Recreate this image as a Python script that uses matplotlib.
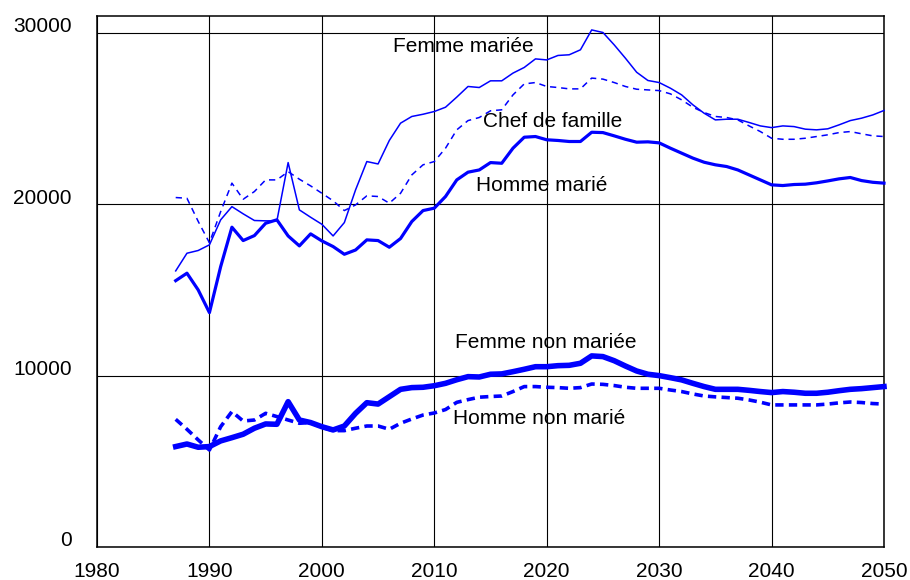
import numpy as np
import matplotlib
matplotlib.use("Agg")
import matplotlib.pyplot as plt
from matplotlib.transforms import ScaledTranslation

plt.rcParams['font.family'] = ['Liberation Sans', 'DejaVu Sans']
plt.rcParams['lines.scale_dashes'] = False

years = list(range(1987, 2051))

femme_mariee = [
    16110, 17140, 17300,
    17630, 19090, 19860, 19440, 19050, 19030, 19030, 22430, 19670, 19240,
    18830, 18150, 18930, 20840, 22490, 22350, 23720, 24730, 25120, 25250,
    25410, 25660, 26250, 26870, 26810, 27200, 27200, 27650, 27980, 28480,
    28420, 28680, 28720, 29010, 30170, 30020, 29300, 28520, 27700, 27220,
    27100, 26770, 26380, 25800, 25310, 24920, 24960, 24960, 24770, 24570,
    24470, 24570, 24530, 24380, 24340, 24400, 24630, 24880, 25020, 25210,
    25470]

chef_de_famille = [
    20390, 20350, 19000,
    17750, 19570, 21230, 20290, 20740, 21420, 21420, 21900, 21460, 21070,
    20640, 20200, 19630, 19960, 20490, 20450, 20060, 20640, 21710, 22300,
    22490, 23270, 24340, 24880, 25060, 25450, 25510, 26380, 27020, 27100,
    26870, 26810, 26730, 26730, 27360, 27300, 27100, 26870, 26710, 26670,
    26630, 26440, 26090, 25660, 25350, 25120, 25060, 24920, 24570, 24240,
    23850, 23790, 23790, 23850, 23950, 24050, 24180, 24240, 24110, 23990,
    23950]

homme_marie = [
    15540, 15975, 15000,
    13675, 16360, 18660, 17880, 18170, 18890, 19090, 18150, 17570, 18270,
    17860, 17530, 17080, 17330, 17920, 17880, 17490, 18000, 18990, 19630,
    19770, 20450, 21420, 21870, 22000, 22430, 22390, 23270, 23910, 23950,
    23760, 23720, 23660, 23660, 24200, 24180, 23990, 23790, 23620, 23640,
    23580, 23270, 22980, 22690, 22450, 22300, 22200, 22000, 21710, 21420,
    21130, 21090, 21150, 21170, 21250, 21360, 21480, 21560, 21380, 21280,
    21230]

femme_non_mariee = [
    5860, 6010, 5820,
    5860, 6190, 6380, 6580, 6930, 7180, 7160, 8480, 7410, 7260,
    7020, 6830, 7060, 7800, 8420, 8340, 8770, 9200, 9300, 9320,
    9410, 9550, 9760, 9940, 9920, 10080, 10100, 10230, 10370, 10520,
    10520, 10580, 10600, 10720, 11150, 11110, 10870, 10560, 10270, 10080,
    10000, 9880, 9750, 9550, 9360, 9200, 9200, 9200, 9140, 9070,
    9010, 9070, 9030, 8970, 8970, 9030, 9120, 9200, 9240, 9300,
    9360]

homme_non_marie = [
    7450, 6870, 6250,
    5660, 7020, 7900, 7350, 7410, 7800, 7610, 7410, 7220, 7260,
    6990, 6790, 6790, 6930, 7060, 7060, 6870, 7220, 7470, 7700,
    7820, 8020, 8440, 8600, 8740, 8780, 8810, 9070, 9360, 9360,
    9320, 9300, 9260, 9300, 9510, 9490, 9420, 9320, 9260, 9260,
    9260, 9160, 9070, 8930, 8810, 8760, 8720, 8680, 8580, 8450,
    8290, 8290, 8290, 8290, 8290, 8340, 8410, 8460, 8430, 8370,
    8340]

x_ticks = [1980, 1990, 2000, 2010, 2020, 2030, 2040, 2050]
y_ticks = [0, 10000, 20000, 30000]

labels = {
    "Femme mariée": (2006.33, 29180),
    "Chef de famille": (2014.33, 24810),
    "Homme marié": (2013.71, 21070),
    "Femme non mariée": (2011.84, 11910),
    "Homme non marié": (2011.66, 7470),
}

BLUE = "#0000FF"

fig = plt.figure(figsize=(9.1, 5.8), dpi=100)
ax = fig.add_axes([97 / 910, 33 / 580, (884 - 97) / 910, (547 - 15.7) / 580])

ax.set_xlim(1980, 2050)
ax.set_ylim(0, 31000)

ax.grid(True, color="black", linewidth=0.8, zorder=0)
ax.set_axisbelow(True)

ax.plot(years, femme_mariee, color=BLUE, lw=1.1, zorder=3, clip_on=False)
ax.plot(years, chef_de_famille, color=BLUE, lw=1.1, dashes=(4.5, 3.5), zorder=3, clip_on=False)
ax.plot(years, homme_marie, color=BLUE, lw=2.3, zorder=3, clip_on=False, solid_joinstyle="round")
ax.plot(years, femme_non_mariee, color=BLUE, lw=4.0, zorder=3, clip_on=False, solid_joinstyle="round")
ax.plot(years, homme_non_marie, color=BLUE, lw=2.6, dashes=(6, 3.8), zorder=3, clip_on=False)

for txt, (xv, yv) in labels.items():
    ax.text(xv, yv, txt, fontsize=15, ha="left", va="center", color="black", zorder=4)

ax.set_xticks(x_ticks)
ax.set_xticklabels([str(v) for v in x_ticks])
ax.set_yticks(y_ticks)
ax.set_yticklabels([str(v) for v in y_ticks])
ax.tick_params(axis="both", length=0, labelsize=15, colors="black")
ax.tick_params(axis="y", pad=18)
ax.tick_params(axis="x", pad=11)

offset = ScaledTranslation(0, 8 / 100, fig.dpi_scale_trans)
for lab in ax.get_yticklabels():
    lab.set_transform(lab.get_transform() + offset)

for sp in ax.spines.values():
    sp.set_color("black")
    sp.set_linewidth(1.1)

fig.savefig("out.png", dpi=100)
